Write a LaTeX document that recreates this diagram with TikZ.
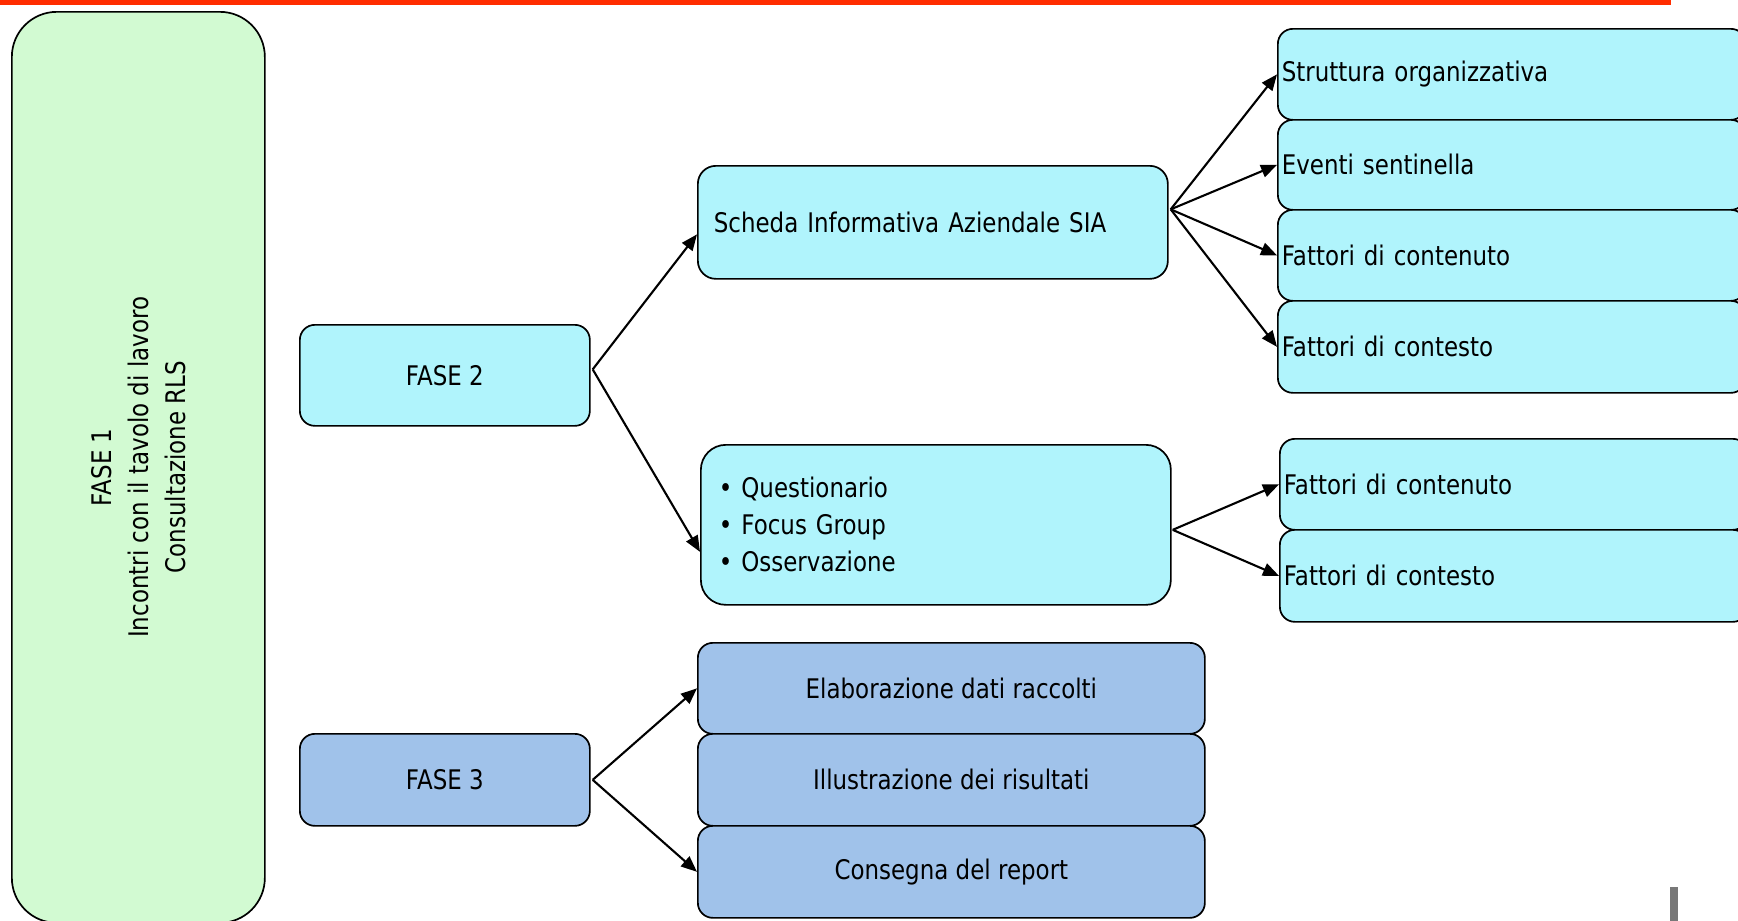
\documentclass[tikz,border=0pt]{standalone}
\usepackage{fontspec}
\setmainfont{DejaVu Sans}[FakeStretch=0.85]
\usetikzlibrary{arrows.meta,calc}
\definecolor{cyanfill}{RGB}{176,244,252}
\definecolor{greenfill}{RGB}{210,250,210}
\definecolor{bluefill}{RGB}{160,194,234}
\definecolor{redbar}{RGB}{255,45,0}
\definecolor{graybar}{RGB}{120,120,120}
\tikzset{
  box/.style={draw=black, line width=1.7pt, rounded corners=15pt, inner sep=0pt, anchor=north west, font=\fontsize{27}{37}\selectfont},
  cbox/.style={box, fill=cyanfill},
  bbox/.style={box, fill=bluefill, align=center},
  rbox/.style={cbox, align=left, inner xsep=4pt, text width=460pt},
  arr/.style={-{Triangle[length=16pt,width=13pt]}, line width=2.1pt}
}
\begin{document}
\begin{tikzpicture}[x=1pt,y=-1pt]
\useasboundingbox (0,0) rectangle (1738,921);
\clip (0,0) rectangle (1738,921);
\fill[redbar] (0,0) rectangle (1671,5);
\fill[graybar] (1670,887) rectangle (1678,921);
\node[box, fill=greenfill, rounded corners=45pt, minimum width=253pt, minimum height=911pt] (f1) at (11,11) {};
\node[rotate=90, align=center, font=\fontsize{27}{37}\selectfont] (f1t) at (f1.center) {FASE 1\\Incontri con il tavolo di lavoro\\Consultazione RLS};
\node[cbox, align=center, minimum width=290pt, minimum height=101pt] (f2) at (299,324) {FASE 2};
\node[bbox, minimum width=290pt, minimum height=92pt] (f3) at (299,733) {FASE 3};
\node[cbox, align=left, inner xsep=16pt, text width=438pt, minimum height=113pt, rounded corners=18pt] (sia) at (697,165) {Scheda Informativa Aziendale SIA};
\node[rbox, minimum height=91pt] (r1) at (1277,28) {Struttura organizzativa};
\node[rbox, minimum height=90pt] (r2) at (1277,119) {Eventi sentinella};
\node[rbox, minimum height=91pt] (r3) at (1277,209) {Fattori di contenuto};
\node[rbox, minimum height=92pt] (r4) at (1277,300) {Fattori di contesto};
\node[cbox, align=left, inner xsep=18pt, text width=434pt, minimum height=160pt, rounded corners=25pt] (bul) at (700,444) {• Questionario\\• Focus Group\\• Osservazione};
\node[rbox, minimum height=91pt] (c1) at (1279,438) {Fattori di contenuto};
\node[rbox, minimum height=92pt] (c2) at (1279,529) {Fattori di contesto};
\node[bbox, minimum width=507pt, minimum height=91pt] (e1) at (697,642) {Elaborazione dati raccolti};
\node[bbox, minimum width=507pt, minimum height=92pt] (e2) at (697,733) {Illustrazione dei risultati};
\node[bbox, minimum width=507pt, minimum height=92pt] (e3) at (697,825) {Consegna del report};
\draw[arr] ($(f2.east)+(2,-6)$) -- ($(sia.west)+(0,12)$);
\draw[arr] ($(f2.east)+(2,-6)$) -- ($(bul.west)+(0,27)$);
\foreach \t in {r1,r2,r3,r4}
  \draw[arr] ($(sia.east)+(2,-13)$) -- (\t.west);
\foreach \t in {c1,c2}
  \draw[arr] ($(bul.east)+(1,5)$) -- (\t.west);
\foreach \t in {e1,e3}
  \draw[arr] ($(f3.east)+(2,0)$) -- (\t.west);
\end{tikzpicture}
\end{document}
